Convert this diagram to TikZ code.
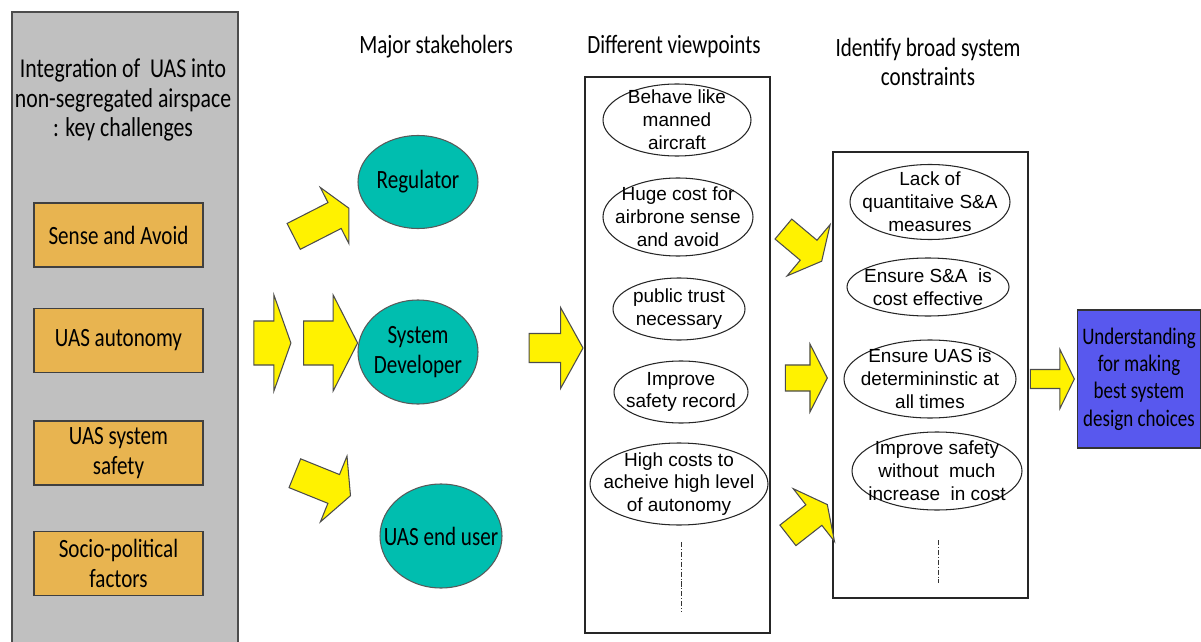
\documentclass[tikz,border=0pt]{standalone}
\usepackage{fontspec}
\setmainfont{Carlito}[FakeStretch=0.8]
\newfontfamily\arialfont{Liberation Sans}
\usetikzlibrary{shapes}

\definecolor{panelgrey}{RGB}{192,192,192}
\definecolor{challengeorange}{RGB}{232,180,80}
\definecolor{staketeal}{RGB}{0,190,175}
\definecolor{choiceblue}{RGB}{88,88,238}

\begin{document}
\begin{tikzpicture}[x=0.02cm,y=-0.02cm]
\def\pxl{0.02cm}
\tikzstyle{every node}=[font=\fontsize{15}{17}\selectfont]
\tikzstyle{every path}=[line width=0.6pt]
\tikzstyle{challenge}=[draw=black!75,fill=challengeorange,minimum width=169*\pxl,
      minimum height=64*\pxl,align=center,inner sep=0pt]
\tikzstyle{stakeholder}=[ellipse,draw=black!65,fill=staketeal,align=center,
      inner xsep=-0.3cm,inner ysep=-0.25cm]
\tikzstyle{viewpoint}=[ellipse,draw=black!85,fill=white,align=center,
      inner xsep=-0.35cm,inner ysep=-0.3cm,font=\arialfont\fontsize{10.8}{13}\selectfont]
\tikzstyle{column}=[draw=black!85,inner sep=0pt]
\tikzstyle{heading}=[align=center,inner sep=0pt]
\tikzstyle{dots}=[densely dashdotted,line width=0.5pt,black!80]
\tikzset{blockarrow/.style n args={4}{single arrow,draw=black!70,fill=yellow,
      inner xsep=0pt,inner ysep=#3*0.01cm,minimum height=#1*\pxl,minimum width=#2*\pxl,
      single arrow head extend={(#2-#3)*0.01cm},single arrow tip angle=#4,
      single arrow head indent=0pt}}

\useasboundingbox (0,0) rectangle (1201,642);

%% Key challenges panel
\fill[panelgrey] (12,12) rectangle (238,642);
\draw[black!70] (12,642) -- (12,12) -- (238,12) -- (238,642);
\node[heading,font=\fontsize{15.5}{17}\selectfont] (title) at (123,100)
      {Integration of \ UAS into\\non-segregated airspace\\: key challenges};
\node[challenge] (sense) at (118.5,235) {Sense and Avoid};
\node[challenge] (autonomy) at (118.5,340.5) {UAS autonomy};
\node[challenge] (safety) at (118.5,453) {UAS system\\safety};
\node[challenge] (social) at (118.5,563.5) {Socio-political\\factors};

%% Major stakeholders
\node[heading] (hstake) at (436,47) {Major stakeholers};
\node[stakeholder,minimum width=120*\pxl,minimum height=93*\pxl] (regulator)
      at (418,182) {Regulator};
\node[stakeholder,minimum width=120*\pxl,minimum height=104*\pxl] (developer)
      at (418,352) {System\\Developer};
\node[stakeholder,minimum width=122*\pxl,minimum height=104*\pxl] (enduser)
      at (441,536) {UAS end user};

%% Arrows into the stakeholders
\node[blockarrow={37}{95}{43}{141}] (arrA) at (268.5,343) {};
\node[blockarrow={54}{95}{43}{126}] (arrB) at (325,343) {};
\node[blockarrow={62}{62}{28}{126},rotate=27] (arrUp) at (318,224) {};
\node[blockarrow={60}{70}{30}{126},rotate=-22] (arrDown) at (319,483) {};

%% Different viewpoints
\node[heading] (hview) at (674,47) {Different viewpoints};
\node[column,minimum width=185*\pxl,minimum height=556*\pxl] (viewbox)
      at (677.5,355) {};
\node[viewpoint,minimum width=148*\pxl,minimum height=72*\pxl] (vp1)
      at (677,120) {Behave like\\manned\\aircraft};
\node[viewpoint,minimum width=150*\pxl,minimum height=78*\pxl] (vp2)
      at (678,217) {Huge cost for\\airbrone sense\\and avoid};
\node[viewpoint,minimum width=132*\pxl,minimum height=62*\pxl] (vp3)
      at (679,309) {public trust\\necessary};
\node[viewpoint,minimum width=134*\pxl,minimum height=62*\pxl] (vp4)
      at (681,392) {Improve\\safety record};
\node[viewpoint,minimum width=178*\pxl,minimum height=82*\pxl] (vp5)
      at (679,484) {High costs to\\acheive high level\\of autonomy};
\coordinate (vtop) at (681,542);
\coordinate (vbot) at (681,612);
\draw[dots] (vtop) -- (vbot);

\node[blockarrow={54}{80}{28}{122}] (arrC) at (552,348) {};

%% Broad system constraints
\node[heading] (hcons) at (928,62) {Identify broad system\\constraints};
\node[column,minimum width=195*\pxl,minimum height=446*\pxl] (consbox)
      at (930.5,375) {};
\node[viewpoint,minimum width=160*\pxl,minimum height=75*\pxl] (c1)
      at (930,202) {Lack of\\quantitaive S\&A\\measures};
\node[viewpoint,minimum width=162*\pxl,minimum height=58*\pxl] (c2)
      at (928,287) {Ensure S\&A \ is\\cost effective};
\node[viewpoint,minimum width=172*\pxl,minimum height=78*\pxl] (c3)
      at (930,379) {Ensure UAS is\\determininstic at\\all times};
\node[viewpoint,minimum width=170*\pxl,minimum height=78*\pxl] (c4)
      at (937,471) {Improve safety\\without \ much\\increase \ in cost};
\coordinate (ctop) at (938,540);
\coordinate (cbot) at (938,583);
\draw[dots] (ctop) -- (cbot);

%% Arrows between viewpoints and constraints
\node[blockarrow={50}{66}{25}{126},rotate=-40] (arrD) at (800,243) {};
\node[blockarrow={42}{67}{25}{126}] (arrE) at (803,378) {};
\node[blockarrow={50}{66}{25}{126},rotate=38] (arrF) at (805,522) {};

%% Outcome
\node[blockarrow={44}{58}{18}{128}] (arrG) at (1050,379) {};
\node[draw=black!80,fill=choiceblue,minimum width=123*\pxl,minimum height=138*\pxl,
      align=center,inner sep=0pt,font=\fontsize{13.5}{15.5}\selectfont] (choice)
      at (1139,379) {Understanding\\for making\\best system\\design choices};

\end{tikzpicture}
\end{document}
